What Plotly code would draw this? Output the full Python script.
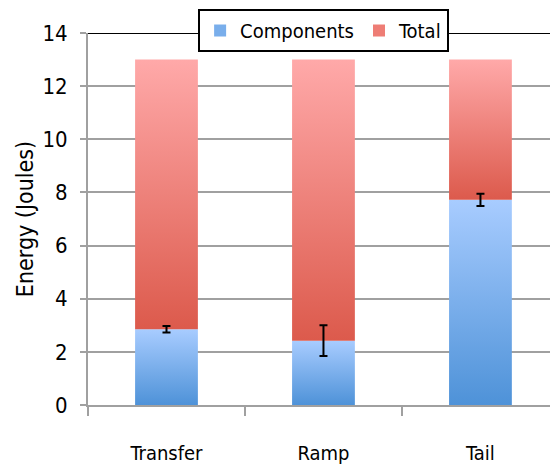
import plotly.graph_objects as go

categories = ["Transfer", "Ramp", "Tail"]
components = [2.85, 2.42, 7.72]
component_err = [0.12, 0.58, 0.23]
totals = [13.0, 13.0, 13.0]
y_ticks = [0, 2, 4, 6, 8, 10, 12, 14]

FONT = "DejaVu Sans Condensed, Liberation Sans Narrow, sans-serif"
BAR_W = 0.4
BLUE = ["#4E92D8", "#A8CCFF"]
RED = ["#DC5A4C", "#FFA9A9"]
GRAY = "#A0A0A0"

fig = go.Figure()


def add_segment(i, lo, hi, cols, name):
    x0, x1 = i - BAR_W / 2, i + BAR_W / 2
    fig.add_trace(go.Scatter(
        x=[x0, x1, x1, x0, x0], y=[lo, lo, hi, hi, lo],
        fill="toself", mode="none",
        fillgradient=dict(type="vertical",
                          colorscale=[[0, cols[0]], [1, cols[1]]],
                          start=lo, stop=hi),
        name=name, showlegend=False, hoverinfo="skip"))


for i, c in enumerate(components):
    add_segment(i, 0, c, BLUE, "Components")
for i, (c, t) in enumerate(zip(components, totals)):
    add_segment(i, c, t, RED, "Total")

# legend swatches
fig.add_trace(go.Bar(x=[None], y=[None], name="Components",
                     marker=dict(color="#79AEEB", line=dict(width=0))))
fig.add_trace(go.Bar(x=[None], y=[None], name="Total",
                     marker=dict(color="#EE7D75", line=dict(width=0))))

fig.add_trace(go.Scatter(
    x=list(range(len(categories))), y=components, mode="markers",
    marker=dict(opacity=0, size=1), showlegend=False, hoverinfo="skip",
    error_y=dict(type="data", array=component_err, color="black",
                 thickness=2, width=4)))

fig.add_shape(type="line", xref="paper", x0=0, x1=1, yref="y", y0=14, y1=14,
              line=dict(color="black", width=2), layer="above")

fig.update_layout(
    width=550, height=466,
    margin=dict(l=88, r=0, t=33, b=61, autoexpand=False),
    paper_bgcolor="white", plot_bgcolor="white",
    font=dict(family=FONT, size=20, color="black"),
    showlegend=True,
    legend=dict(orientation="h", x=0.51, xanchor="center", y=1.0645, yanchor="top",
                bgcolor="white", bordercolor="black", borderwidth=2,
                font=dict(family=FONT, size=20), itemwidth=30,
                traceorder="normal"),
    xaxis=dict(range=[-0.5, 2.443], tickmode="array",
               tickvals=list(range(len(categories))), ticktext=categories,
               ticks="", showgrid=False, zeroline=False, automargin=False,
               showline=True, linecolor=GRAY, linewidth=2,
               ticklabelstandoff=29, tickfont=dict(size=20),
               minor=dict(tickmode="array", tickvals=[-0.5, 0.5, 1.5, 2.5],
                          ticks="outside", ticklen=9, tickcolor=GRAY,
                          tickwidth=2, showgrid=False)),
    yaxis=dict(range=[0, 14], tickmode="array", tickvals=y_ticks,
               ticks="outside", ticklen=6, tickcolor=GRAY, tickwidth=2,
               showgrid=True, gridcolor=GRAY, gridwidth=2, automargin=False,
               showline=True, linecolor=GRAY, linewidth=2, zeroline=False,
               ticklabelstandoff=8, tickfont=dict(size=22),
               title=dict(text="Energy (Joules)", standoff=2,
                          font=dict(family=FONT, size=23))),
)

fig.write_html("out.html", config={"displayModeBar": False},
               post_script="document.body.style.margin='0';")
